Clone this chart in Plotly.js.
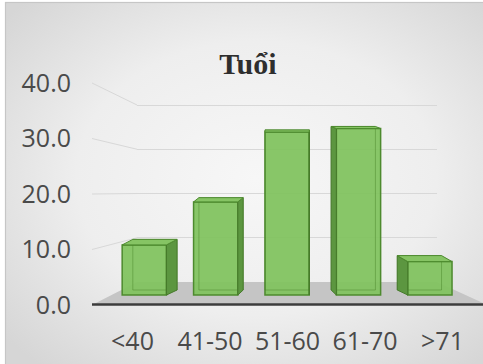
<!DOCTYPE html>
<html>
<head>
<meta charset="utf-8">
<script src="https://cdn.plot.ly/plotly-3.0.1.min.js"></script>
<style>html,body{margin:0;padding:0;background:#fff;}#chart{width:483px;height:364px;}</style>
</head>
<body>
<div id="chart"></div>
<script>
// ---- data ----
const categories = ['<40', '41-50', '51-60', '61-70', '>71'];
const values = [9.9, 18.4, 32.2, 32.9, 6.6];
const yTickValues = [0, 10, 20, 30, 40];
const gridTickValues = [10, 20, 30, 40];
const chartTitle = 'Tuổi';

// ---- geometry (pixels) ----
const W = 483, H = 364;
const front = { y0: 305, k: 5.55, x0: 132.5, xs: 77.5 };   // front plane (labels)
const barP  = { y0: 295, k: 5.06, x0: 144.3, xs: 71.4 };   // bar plane
const wall  = { y0: 282, k: 4.425, xL: 137, xR: 437 };     // back wall
const leftWallX = 92;
const barWidth = 0.62;
const vanishX = 288, persp = 0.074, botDepthPx = 5;
const topDepthPx = v => Math.max(2, 7 - 0.15 * v);

const xRange = p => [(0 - p.x0) / p.xs, (W - p.x0) / p.xs];
const yRange = p => [(p.y0 - H) / p.k, p.y0 / p.k];
const px = x => x / W, py = y => 1 - y / H;
const frontY = v => front.y0 - front.k * v;
const wallY = v => wall.y0 - wall.k * v;

// background (gradient panel with thin frame)
const bgSvg = "<svg xmlns='http://www.w3.org/2000/svg' width='483' height='364'><defs>" +
  "<radialGradient id='g' cx='52%' cy='48%' r='68%'><stop offset='0' stop-color='#f7f7f7'/>" +
  "<stop offset='0.55' stop-color='#eeeeee'/><stop offset='1' stop-color='#d6d6d6'/></radialGradient></defs>" +
  "<rect width='483' height='364' fill='#ffffff'/>" +
  "<rect x='5.5' y='2.5' width='482' height='366' fill='url(#g)' stroke='#c6c6c6' stroke-width='1.2'/></svg>";
const bgURI = 'data:image/svg+xml;charset=utf-8,' + encodeURIComponent(bgSvg);

const shapes = [];
// floor
shapes.push({
  type: 'path', xref: 'paper', yref: 'paper', layer: 'below',
  path: `M ${px(leftWallX)},${py(frontY(0))} L ${px(wall.xL)},${py(wallY(0))} L ${px(wall.xR)},${py(wallY(0))} L ${px(W + 2)},${py(frontY(0) - 1)} L ${px(W + 2)},${py(frontY(0))} Z`,
  fillcolor: '#c5c5c5', line: { width: 0 }
});
// left wall lines
gridTickValues.forEach(v => {
  shapes.push({
    type: 'line', xref: 'paper', yref: 'paper', layer: 'below',
    x0: px(leftWallX), y0: py(frontY(v)), x1: px(wall.xL), y1: py(wallY(v)),
    line: { color: '#d8d8d8', width: 1 }
  });
});
// front floor edge
shapes.push({
  type: 'line', xref: 'paper', yref: 'paper', layer: 'below',
  x0: px(leftWallX), y0: py(frontY(0) - 0.5), x1: px(W + 2), y1: py(frontY(0) - 0.5),
  line: { color: '#3c3c3c', width: 2.5 }
});
// 3-D faces of each bar
const vxData = (vanishX - barP.x0) / barP.xs;
const dyB = botDepthPx / barP.k;
values.forEach((v, i) => {
  const xL = i - barWidth / 2, xR = i + barWidth / 2;
  const dx = persp * (vxData - i);
  const dyT = topDepthPx(v) / barP.k;
  const sx = dx >= 0 ? xR : xL;
  // back face outline seen through
  shapes.push({
    type: 'path', xref: 'x2', yref: 'y2', layer: 'above',
    path: `M ${xL + dx},${dyB} L ${xR + dx},${dyB} L ${xR + dx},${v + dyT} L ${xL + dx},${v + dyT} Z`,
    fillcolor: 'rgba(0,0,0,0)', line: { color: 'rgba(70,130,40,0.45)', width: 1 }
  });
  // side face
  shapes.push({
    type: 'path', xref: 'x2', yref: 'y2', layer: 'above',
    path: `M ${sx},0 L ${sx},${v} L ${sx + dx},${v + dyT} L ${sx + dx},${dyB} Z`,
    fillcolor: '#5c9640', line: { color: '#467a2a', width: 1 }
  });
  // top face
  shapes.push({
    type: 'path', xref: 'x2', yref: 'y2', layer: 'above',
    path: `M ${xL},${v} L ${xR},${v} L ${xR + dx},${v + dyT} L ${xL + dx},${v + dyT} Z`,
    fillcolor: '#86c464', line: { color: '#4d8a2e', width: 1 }
  });
});

const idx = categories.map((c, i) => i);
const tickFont = { family: 'Open Sans, Lato, sans-serif', size: 25, color: '#4a4a4a' };

const traces = [
  { type: 'scatter', x: [], y: [], xaxis: 'x', yaxis: 'y', showlegend: false, hoverinfo: 'skip' },
  {
    type: 'bar', x: idx, y: values, xaxis: 'x2', yaxis: 'y2', width: barWidth,
    marker: { color: 'rgba(130,195,96,0.95)', line: { color: '#4d8a2e', width: 1.5 } },
    showlegend: false, hoverinfo: 'skip'
  },
  { type: 'scatter', x: idx, y: values, mode: 'none', xaxis: 'x3', yaxis: 'y3', showlegend: false, hoverinfo: 'skip' }
];

const layout = {
  width: W, height: H,
  margin: { l: 0, r: 0, t: 0, b: 0, pad: 0 },
  paper_bgcolor: '#ffffff', plot_bgcolor: 'rgba(0,0,0,0)',
  showlegend: false,
  title: {
    text: chartTitle, x: 248 / W, xanchor: 'center', y: py(63), yanchor: 'middle',
    xref: 'paper', yref: 'paper',
    font: { family: 'Liberation Serif, Times New Roman, serif', size: 30, color: '#2e2e2e', weight: 'bold' }
  },
  images: [{ source: bgURI, xref: 'paper', yref: 'paper', x: 0, y: 1, sizex: 1, sizey: 1,
             sizing: 'stretch', xanchor: 'left', yanchor: 'top', layer: 'below' }],
  xaxis: { domain: [px(wall.xL), px(wall.xR)], range: [0, 1], visible: false, anchor: 'y', fixedrange: true },
  yaxis: { domain: [0, 1], anchor: 'x', range: yRange(wall), tickmode: 'array', tickvals: gridTickValues,
           showticklabels: false, ticks: '', showgrid: true, gridcolor: '#d8d8d8', gridwidth: 1,
           zeroline: false, showline: false, fixedrange: true },
  xaxis2: { domain: [0, 1], anchor: 'y2', range: xRange(barP), visible: false, fixedrange: true },
  yaxis2: { domain: [0, 1], anchor: 'x2', range: yRange(barP), visible: false, fixedrange: true },
  xaxis3: { overlaying: 'x2', anchor: 'free', position: py(324), range: xRange(front),
            tickmode: 'array', tickvals: idx, ticktext: categories, ticks: '', showgrid: false,
            zeroline: false, showline: false, tickfont: tickFont, fixedrange: true },
  yaxis3: { overlaying: 'y2', anchor: 'free', position: px(71), range: yRange(front),
            tickmode: 'array', tickvals: yTickValues, tickformat: '.1f', ticks: '', showgrid: false,
            zeroline: false, showline: false, tickfont: tickFont, fixedrange: true },
  shapes: shapes
};

Plotly.newPlot('chart', traces, layout, { displayModeBar: false, staticPlot: true });
</script>
</body>
</html>
